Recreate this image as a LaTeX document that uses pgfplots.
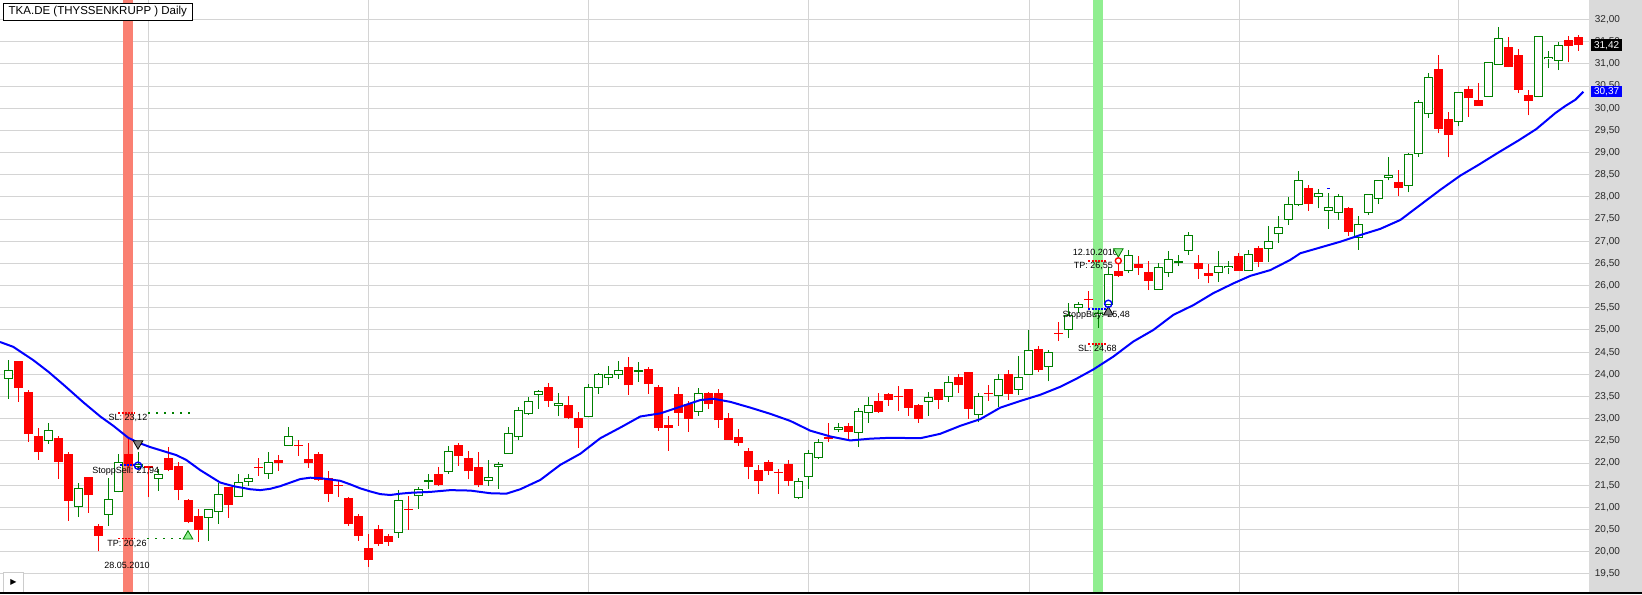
\documentclass[border=0pt]{standalone}
\usepackage{pgfplots}
\pgfplotsset{compat=1.18}
\usepackage{pgfplotstable}
\usepackage{fontspec}
\setmainfont{Liberation Sans}
\newfontfamily\dejavu{DejaVu Sans}
\definecolor{cgreen}{RGB}{0,128,0}
\definecolor{cred}{RGB}{255,0,0}
\definecolor{gridc}{RGB}{212,212,212}
\definecolor{panel}{RGB}{218,218,218}
\definecolor{bandred}{RGB}{250,128,114}
\definecolor{bandgreen}{RGB}{144,238,144}
\definecolor{tickc}{RGB}{40,40,40}
\definecolor{mkgray}{RGB}{128,128,128}

% up (green, hollow) candles: index open high low close
\pgfplotstableread{
i o h l c
0 23.91 24.32 23.44 24.08
4 22.51 22.90 22.44 22.74
7 21.03 21.55 20.78 21.43
10 20.85 21.66 20.59 21.18
11 21.36 22.20 21.34 22.02
13 21.93 22.26 21.85 21.96
15 21.66 21.86 21.38 21.75
20 20.77 20.97 20.25 20.96
21 20.91 21.54 20.63 21.30
23 21.25 21.75 21.24 21.57
24 21.59 21.75 21.49 21.66
26 21.77 22.25 21.65 22.02
28 22.40 22.81 22.40 22.60
39 20.44 21.39 20.32 21.16
41 21.26 21.45 20.97 21.41
42 21.58 21.75 21.42 21.60
44 21.81 22.39 21.76 22.27
48 21.60 22.07 21.49 21.68
49 21.93 22.02 21.42 21.97
50 22.22 22.81 22.22 22.67
51 22.60 23.26 22.51 23.19
52 23.11 23.49 23.08 23.39
53 23.55 23.65 23.22 23.62
55 23.30 23.58 23.06 23.35
58 23.05 23.79 23.03 23.71
59 23.71 24.02 23.56 24.00
60 23.93 24.19 23.75 23.99
61 24.00 24.30 23.90 24.09
63 24.06 24.28 23.83 24.08
69 23.17 23.69 23.07 23.57
79 21.23 21.66 21.18 21.59
80 21.70 22.30 21.42 22.22
81 22.13 22.54 22.09 22.47
83 22.75 22.90 22.69 22.80
85 22.69 23.25 22.36 23.17
86 23.14 23.49 22.91 23.30
92 23.39 23.60 23.07 23.48
94 23.50 23.96 23.38 23.82
97 23.10 23.57 22.92 23.50
99 23.53 24.01 23.27 23.89
101 23.66 24.41 23.53 23.93
102 24.00 25.00 23.99 24.54
104 24.18 24.56 23.84 24.50
106 25.00 25.61 24.81 25.32
107 25.50 25.64 25.39 25.57
109 25.34 25.45 25.05 25.38
110 25.57 26.43 25.56 26.25
112 26.33 26.80 26.29 26.68
115 25.92 26.50 25.92 26.41
116 26.30 26.77 26.19 26.58
117 26.52 26.68 26.44 26.54
118 26.80 27.20 26.70 27.12
121 26.30 26.77 26.09 26.43
122 26.40 26.56 26.26 26.43
124 26.34 26.80 26.33 26.71
126 26.84 27.34 26.54 27.00
127 27.17 27.57 26.97 27.32
128 27.49 28.00 27.37 27.83
129 27.83 28.58 27.80 28.38
131 28.01 28.18 27.74 28.08
132 27.70 28.08 27.28 27.77
133 27.65 28.06 27.49 28.01
135 27.09 27.57 26.81 27.38
136 27.65 28.06 27.59 28.06
137 27.97 28.37 27.84 28.37
138 28.44 28.91 28.37 28.49
140 28.26 28.98 28.10 28.96
141 28.98 30.18 28.91 30.13
142 29.88 30.79 29.79 30.70
145 29.69 30.36 29.59 30.36
148 30.27 31.04 30.27 31.04
149 30.99 31.83 30.99 31.56
153 30.27 31.62 30.25 31.62
154 31.11 31.29 30.90 31.15
155 31.08 31.50 30.86 31.42
}\upcandles

% down (red, filled) candles: index open high low close
\pgfplotstableread{
i o h l c
1 24.30 24.31 23.38 23.70
2 23.60 23.65 22.48 22.66
3 22.60 22.78 22.07 22.24
5 22.57 22.60 21.65 22.03
6 22.21 22.24 20.70 21.15
8 21.69 21.69 20.88 21.27
9 20.58 20.63 20.01 20.36
12 22.20 22.58 21.88 21.94
14 21.93 21.93 21.23 21.90
16 22.12 22.36 21.81 21.85
17 21.93 22.03 21.16 21.39
18 21.17 21.18 20.64 20.68
19 20.80 20.96 20.23 20.48
22 21.46 21.47 20.77 21.06
25 21.90 22.11 21.71 21.88
27 22.06 22.18 21.83 22.01
29 22.41 22.53 22.17 22.39
30 22.09 22.45 21.90 22.01
31 22.20 22.26 21.60 21.62
32 21.66 21.82 21.13 21.31
33 21.51 21.60 21.23 21.49
34 21.21 21.23 20.59 20.63
35 20.81 20.85 20.25 20.36
36 20.08 20.40 19.66 19.82
37 20.51 20.60 20.14 20.18
38 20.36 20.40 20.14 20.23
40 20.97 21.26 20.50 20.95
43 21.75 21.91 21.49 21.51
45 22.40 22.45 21.94 22.17
46 22.11 22.27 21.63 21.81
47 21.91 22.25 21.45 21.51
54 23.71 23.81 23.27 23.41
56 23.30 23.51 23.00 23.02
57 23.01 23.15 22.35 22.78
62 24.17 24.39 23.54 23.75
64 24.12 24.17 23.56 23.79
65 23.72 23.76 22.73 22.80
66 22.86 23.06 22.28 22.80
67 23.56 23.71 22.84 23.14
68 23.33 23.41 22.71 23.00
70 23.58 23.60 23.22 23.34
71 23.58 23.67 22.80 22.96
72 23.02 23.13 22.53 22.53
73 22.59 22.77 22.39 22.46
74 22.27 22.34 21.63 21.92
75 21.85 21.95 21.31 21.60
76 22.02 22.07 21.74 21.81
77 21.80 21.87 21.31 21.78
78 21.98 22.07 21.49 21.60
82 22.58 22.90 22.47 22.55
84 22.83 22.90 22.52 22.71
87 23.40 23.58 23.14 23.16
88 23.55 23.58 23.29 23.43
89 23.50 23.74 23.17 23.48
90 23.66 23.67 23.07 23.25
91 23.32 23.33 22.91 23.00
93 23.66 23.67 23.23 23.43
95 23.93 24.01 23.59 23.75
96 24.05 24.06 23.00 23.23
98 23.58 23.75 23.40 23.56
100 24.01 24.10 23.43 23.56
103 24.57 24.64 24.06 24.10
105 24.93 25.17 24.75 24.91
108 25.69 25.87 25.45 25.67
111 26.34 26.50 26.19 26.22
113 26.49 26.66 26.24 26.40
114 26.31 26.55 25.90 26.11
119 26.51 26.69 26.15 26.37
120 26.28 26.48 26.05 26.22
123 26.67 26.74 26.33 26.34
125 26.85 26.90 26.41 26.54
130 28.20 28.26 27.69 27.83
134 27.75 27.78 27.13 27.22
139 28.34 28.61 28.01 28.21
143 30.88 31.20 29.43 29.54
144 29.75 29.91 28.89 29.40
146 30.43 30.50 29.81 30.22
147 30.19 30.57 30.06 30.06
150 31.38 31.61 30.92 30.92
151 31.20 31.33 30.34 30.42
152 30.29 30.41 29.84 30.17
156 31.53 31.63 31.03 31.41
157 31.60 31.65 31.30 31.42
}\downcandles

% moving average (blue line)
\pgfplotstableread{
i v
-0.83 24.73
0.5 24.62
2.5 24.32
4.0 24.06
5.5 23.77
7.5 23.37
9.2 23.05
10.5 22.84
12.0 22.57
13.0 22.46
14.2 22.36
15.5 22.27
16.8 22.18
17.8 22.07
19.2 21.84
20.2 21.70
21.2 21.56
22.5 21.48
24.2 21.41
25.2 21.39
26.2 21.42
27.2 21.48
28.2 21.56
29.2 21.64
30.2 21.67
31.2 21.66
32.2 21.63
33.2 21.60
34.2 21.52
35.2 21.43
36.2 21.36
37.2 21.30
38.2 21.28
39.2 21.31
40.2 21.33
42.2 21.35
44.2 21.39
46.2 21.38
48.2 21.32
49.8 21.31
51.2 21.41
53.2 21.62
55.2 21.96
57.2 22.21
59.2 22.56
61.2 22.80
63.2 23.05
65.2 23.12
67.2 23.27
69.2 23.42
70.5 23.45
72.2 23.38
74.2 23.25
76.2 23.11
78.2 22.95
80.2 22.73
82.2 22.60
84.2 22.51
86.2 22.55
88.2 22.57
91.2 22.56
93.2 22.66
95.2 22.84
97.2 22.99
99.2 23.25
101.2 23.40
103.2 23.54
105.2 23.72
106.8 23.90
108.5 24.11
110.5 24.40
112.5 24.74
114.5 25.00
116.5 25.34
118.5 25.56
120.5 25.83
122.5 26.05
124.2 26.22
126.2 26.35
128.2 26.58
129.2 26.73
131.2 26.86
133.2 26.99
135.2 27.14
137.2 27.28
139.2 27.48
141.2 27.82
143.2 28.16
145.2 28.48
147.0 28.72
149.0 29.00
151.0 29.27
152.8 29.53
153.7 29.70
154.7 29.89
155.7 30.05
156.7 30.19
157.5 30.37
}\matable

\newcommand\annfont{\fontsize{4.5pt}{5pt}\selectfont}
\pgfplotsset{candle/.style={draw=none, no markers, forget plot}}

\begin{document}
\begin{tikzpicture}
\path[use as bounding box] (0,0) rectangle (821pt,297pt);
\fill[panel] (794.5pt,0) rectangle (821pt,297pt);
\begin{axis}[
  at={(0pt,0.5pt)}, anchor=south west,
  width=794.5pt, height=296.5pt, scale only axis,
  xmin=-0.83, xmax=158.07, ymin=19.071, ymax=32.439,
  axis line style={draw=none},
  xtick={14,36,58,80,102.07,123.07,145}, xticklabels={},
  ytick={19.5,20,20.5,21,21.5,22,22.5,23,23.5,24,24.5,25,25.5,26,26.5,27,27.5,28,28.5,29,29.5,30,30.5,31,31.5,32},
  yticklabel pos=right,
  major tick length=0pt,
  xmajorgrids, ymajorgrids,
  major grid style={gridc, line width=0.5pt},
  yticklabel style={anchor=west, inner sep=0pt, xshift=2.75pt, text=tickc,
    font=\fontsize{5pt}{5pt}\selectfont,
    /pgf/number format/.cd, fixed, fixed zerofill, precision=2, use comma, assume math mode=true},
  clip mode=individual,
]
% signal bands
\addplot[fill=bandred, draw=none, forget plot] coordinates {(11.5,19.071) (12.45,19.071) (12.45,32.439) (11.5,32.439)} -- cycle;
\addplot[fill=bandgreen, draw=none, forget plot] coordinates {(108.5,19.071) (109.45,19.071) (109.45,32.439) (108.5,32.439)} -- cycle;

% green candles: wicks, outline, hollow inside
\addplot[candle, error bars/.cd, y dir=plus, y explicit, error mark=none,
  error bar style={draw=cgreen, line width=0.7pt}]
  table[x=i, y=l, y error plus expr={\thisrow{h}-\thisrow{l}}] {\upcandles};
\addplot[candle, error bars/.cd, y dir=plus, y explicit, error mark=none,
  error bar style={draw=cgreen, line width=4.5pt}]
  table[x=i, y expr={\thisrow{o}-0.0113}, y error plus expr={\thisrow{c}-\thisrow{o}+0.0226}] {\upcandles};
\addplot[candle, error bars/.cd, y dir=plus, y explicit, error mark=none,
  error bar style={draw=white, line width=3.5pt}]
  table[x=i, y expr={\thisrow{o}+0.0113}, y error plus expr={max(\thisrow{c}-\thisrow{o}-0.0226,0)}] {\upcandles};

% red candles: wicks, filled bodies
\addplot[candle, error bars/.cd, y dir=plus, y explicit, error mark=none,
  error bar style={draw=cred, line width=0.7pt}]
  table[x=i, y=l, y error plus expr={\thisrow{h}-\thisrow{l}}] {\downcandles};
\addplot[candle, error bars/.cd, y dir=plus, y explicit, error mark=none,
  error bar style={draw=cred, line width=4.5pt}]
  table[x=i, y=c, y error plus expr={max(\thisrow{o}-\thisrow{c},0.025)}] {\downcandles};

% moving average
\addplot[blue, line width=1pt, mark=none] table[x=i, y=v] {\matable};

% ---- left trade annotations
\addplot[cred, line width=0.9pt, dash pattern=on 1pt off 0.6pt] coordinates {(11.0,23.13) (12.7,23.13)};
\addplot[cgreen, line width=0.6pt, dash pattern=on 0.6pt off 3.4pt] coordinates {(14.0,23.13) (18.2,23.13)};
\addplot[blue, line width=0.9pt, dash pattern=on 1pt off 0.6pt] coordinates {(11.2,21.96) (12.7,21.96)};
\addplot[cred, line width=0.9pt, dash pattern=on 1pt off 0.6pt] coordinates {(11.0,20.30) (12.7,20.30)};
\addplot[cgreen, line width=0.6pt, dash pattern=on 0.6pt off 3.4pt] coordinates {(13.9,20.30) (17.5,20.30)};
\addplot[only marks, mark=triangle*, mark size=2.8pt, mark options={rotate=180, fill=mkgray, draw=black, line width=0.4pt}] coordinates {(12.97,22.44)};
\addplot[only marks, mark=o, mark size=1.8pt, mark options={draw=blue, line width=0.7pt}] coordinates {(12.97,21.94)};
\addplot[only marks, mark=triangle*, mark size=2.8pt, mark options={fill=bandgreen, draw=cgreen, line width=0.4pt}] coordinates {(17.97,20.35)};
\node[font=\annfont] at (axis cs:11.97,23.01) {SL: 23,12};
\node[font=\annfont] at (axis cs:11.75,21.82) {StoppSell: 21,94};
\node[font=\annfont] at (axis cs:11.87,20.18) {TP: 20,26};
\node[font=\annfont] at (axis cs:11.87,19.69) {28.05.2010};

% ---- right trade annotations
\addplot[cred, line width=0.9pt, dash pattern=on 1pt off 0.6pt] coordinates {(108.0,26.56) (109.9,26.56)};
\addplot[blue, line width=0.9pt, dash pattern=on 1pt off 0.6pt] coordinates {(108.0,25.47) (109.9,25.47)};
\addplot[cred, line width=0.9pt, dash pattern=on 1pt off 0.6pt] coordinates {(108.0,24.68) (109.9,24.68)};
\node[font=\annfont] at (axis cs:108.7,26.74) {12.10.2010};
\node[font=\annfont] at (axis cs:108.5,26.45) {TP: 26,55};
\node[font=\annfont] at (axis cs:108.8,25.34) {StoppBuy: 25,48};
\node[font=\annfont] at (axis cs:108.9,24.57) {SL: 24,68};
\addplot[only marks, mark=triangle*, mark size=2.8pt, mark options={rotate=180, fill=bandgreen, draw=cgreen, line width=0.4pt}] coordinates {(111.0,26.77)};
\addplot[only marks, mark=o, mark size=1.5pt, mark options={draw=cred, fill=white, line width=0.7pt}] coordinates {(111.0,26.56)};
\addplot[only marks, mark=triangle*, mark size=2.8pt, mark options={fill=mkgray, draw=black, line width=0.4pt}] coordinates {(110.0,25.40)};
\addplot[only marks, mark=o, mark size=1.8pt, mark options={draw=blue, line width=0.7pt}] coordinates {(110.0,25.59)};
\addplot[blue, line width=0.6pt] coordinates {(131.9,28.19) (132.2,28.19)};

% ---- last-value tags on the price scale
\node[fill=black, text=white, font=\fontsize{5pt}{5pt}\selectfont, anchor=west, inner sep=0pt, minimum width=15.6pt, minimum height=5.7pt] at (axis cs:158.07,31.42) [xshift=0.8pt] {31,42};
\node[fill=blue, text=white, font=\fontsize{5pt}{5pt}\selectfont, anchor=west, inner sep=0pt, minimum width=15.6pt, minimum height=5.7pt] at (axis cs:158.07,30.37) [xshift=0.8pt] {30,37};
\end{axis}
% title box
\node[draw=black, line width=0.5pt, fill=white, anchor=north west, inner xsep=2.6pt, inner ysep=0pt, minimum height=8.5pt, font=\fontsize{5.75pt}{6pt}\selectfont] at (1.5pt,295.5pt) {TKA.DE (THYSSENKRUPP ) Daily};
% small button bottom-left
\node[draw=gray!40, fill=white, anchor=south west, minimum width=10pt, minimum height=10pt, inner sep=0pt] at (1.5pt,0.6pt) {\dejavu\fontsize{4pt}{4pt}\selectfont ▶};
% bottom border
\draw[black, line width=0.6pt] (0,0.5pt) -- (821pt,0.5pt);
\end{tikzpicture}
\end{document}
